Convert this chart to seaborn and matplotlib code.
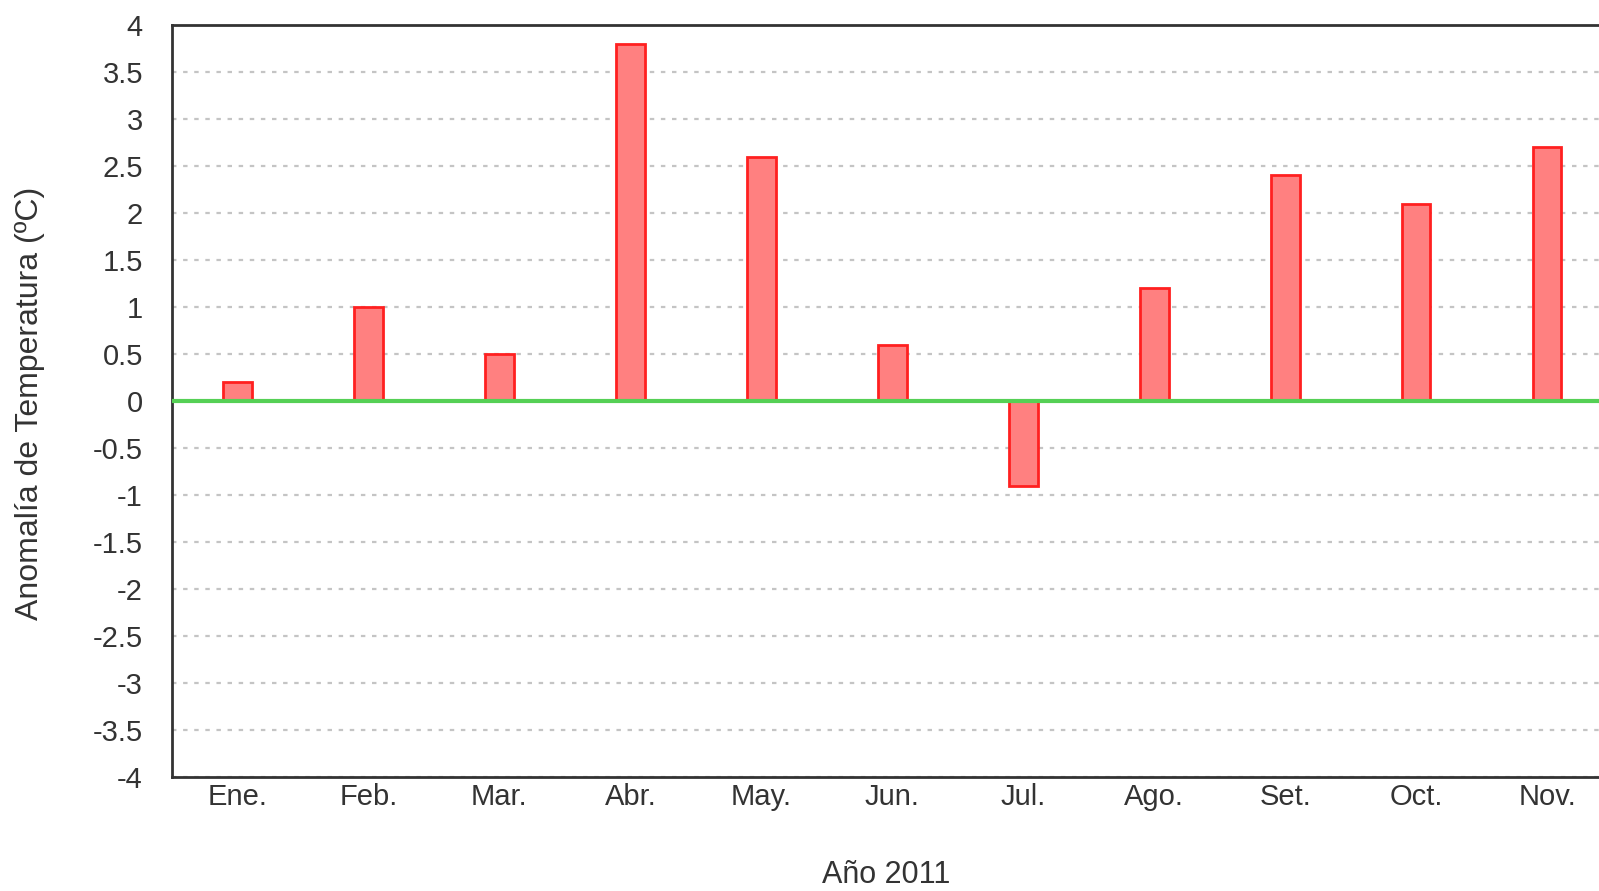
import matplotlib
matplotlib.use("Agg")
import matplotlib.pyplot as plt
import seaborn as sns
import numpy as np

# monthly temperature anomaly, 2011
months = ["Ene.", "Feb.", "Mar.", "Abr.", "May.", "Jun.", "Jul.", "Ago.", "Set.", "Oct.", "Nov."]
anomalia = [0.2, 1.0, 0.5, 3.8, 2.6, 0.6, -0.9, 1.2, 2.4, 2.1, 2.7]
yticks = np.arange(-4, 4.01, 0.5)
ytick_labels = [f"{t:g}" for t in yticks]

sns.set_style("white")
plt.rcParams["font.family"] = ["Liberation Sans", "DejaVu Sans"]

fig = plt.figure(figsize=(15.99, 8.91), dpi=100)
ax = fig.add_axes([0.1076, 0.128, 1 - 0.1076, 0.844])

sns.barplot(x=months, y=anomalia, width=0.22, color="#ff8080", saturation=1,
            edgecolor="#ff2020", linewidth=2, ax=ax, zorder=3)

# zero line
ax.axhline(0, color="#55d055", lw=3, zorder=4)

ax.set_ylim(-4, 4)
ax.set_xlim(-0.5, 10.397)
ax.set_yticks(yticks)
ax.set_yticklabels(ytick_labels)

ax.grid(axis="y", color="#c4c4c4", linestyle=(0, (2, 3)), linewidth=1.6, zorder=0)
ax.grid(axis="x", visible=False)

for s in ["top", "left", "bottom"]:
    ax.spines[s].set_color("#333333")
    ax.spines[s].set_linewidth(2)
ax.spines["right"].set_visible(False)

ax.tick_params(axis="y", direction="in", length=8, width=2, color="#444444",
               labelsize=21, labelcolor="#333333", pad=21)
ax.tick_params(axis="x", length=0, labelsize=21, labelcolor="#333333", pad=4)

ax.set_xlabel("")
ax.set_ylabel("")
fig.text(0.019, 0.547, "Anomalía de Temperatura (ºC)", rotation=90, fontsize=23,
         color="#333333", ha="center", va="center")
fig.text(0.554, 0.018, "Año 2011", fontsize=22, color="#333333", ha="center", va="center")

fig.savefig("out.png", dpi=100)
